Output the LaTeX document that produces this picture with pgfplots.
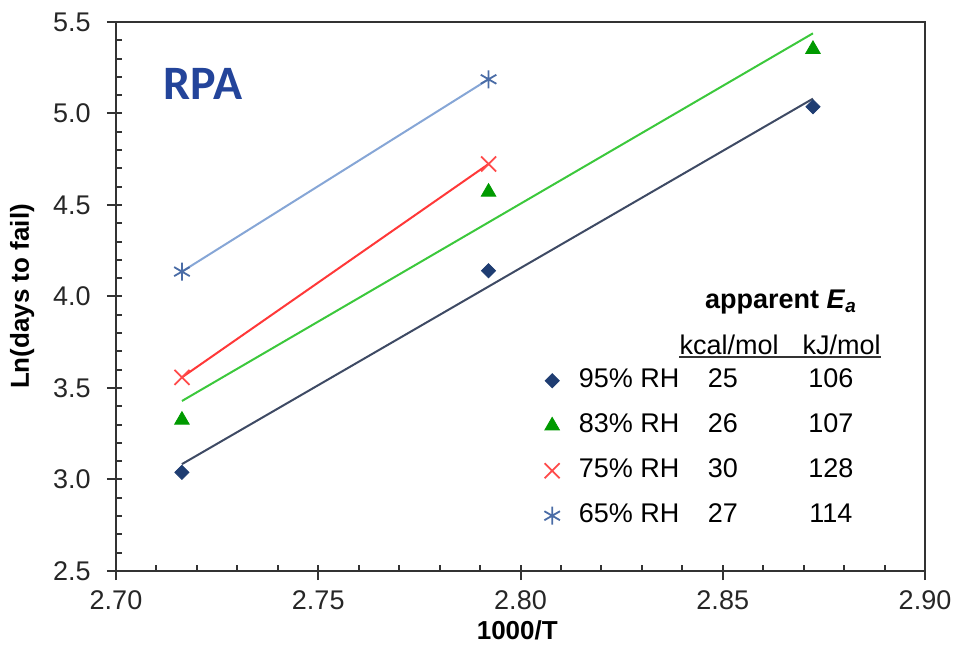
\documentclass[border=0pt]{standalone}
\usepackage{fontspec}
\setmainfont{Liberation Sans}
\newfontfamily\calibri{Carlito}
\usepackage{pgfplots}
\pgfplotsset{compat=1.18}
\usetikzlibrary{calc}

\definecolor{m95}{HTML}{1F3D72}
\definecolor{l95}{HTML}{3E4A64}
\definecolor{m83}{HTML}{009A00}
\definecolor{l83}{HTML}{3CC83C}
\definecolor{m75}{HTML}{FF4A4A}
\definecolor{l75}{HTML}{FF3838}
\definecolor{m65}{HTML}{4A6CA6}
\definecolor{l65}{HTML}{86A6D6}
\definecolor{rpa}{HTML}{23449A}
\definecolor{axgray}{HTML}{333333}

\newcommand{\fsz}{\fontsize{13.5}{16}\selectfont}

\begin{document}
\begin{tikzpicture}
\begin{axis}[
  scale only axis, width=404.5pt, height=274.5pt,
  xmin=2.70, xmax=2.90, ymin=2.5, ymax=5.5,
  xtick={2.70,2.75,2.80,2.85,2.90},
  ytick={2.5,3.0,3.5,4.0,4.5,5.0,5.5},
  minor x tick num=4, minor y tick num=4,
  xtick pos=bottom, ytick pos=left,
  tick align=inside,
  major tick length=7.5pt, minor tick length=3pt,
  every major x tick/.append style={yshift=-4.5pt},
  every major y tick/.append style={xshift=-4.5pt},
  tick style={axgray, line width=1pt},
  axis line style={axgray, line width=1.2pt},
  /pgf/number format/assume math mode=true,
  xticklabel={\pgfmathprintnumber[fixed,fixed zerofill,precision=2]{\tick}},
  yticklabel={\pgfmathprintnumber[fixed,fixed zerofill,precision=1]{\tick}},
  ticklabel style={font=\fsz, text=black!85},
  yticklabel style={inner sep=0pt, xshift=-12.5pt},
  xticklabel style={inner sep=0pt, yshift=-9.5pt},
  xlabel={\textbf{1000/T}},
  ylabel={\textbf{Ln(days to fail)}},
  label style={font=\fontsize{13}{15}\selectfont},
  xlabel style={at={(axis description cs:0.496,-0.1075)}, anchor=center},
  ylabel style={at={(axis description cs:-0.116,0.5)}, anchor=center},
  legend style={at={(axis description cs:0.529,0.371)}, anchor=north west,
    draw=none, fill=none, inner sep=0pt, font=\fsz,
    nodes={inner sep=0pt, text height=10pt, text depth=3pt, anchor=west},
    row sep=9.5pt, column sep=9.5pt},
  legend cell align=left,
]
% fitted lines
\addplot[l95, line width=1pt, forget plot] coordinates {(2.7163,3.084) (2.8723,5.081)};
\addplot[l83, line width=1pt, forget plot] coordinates {(2.7163,3.429) (2.8723,5.438)};
\addplot[l75, line width=1pt, forget plot] coordinates {(2.7163,3.558) (2.7921,4.724)};
\addplot[l65, line width=1pt, forget plot] coordinates {(2.7163,4.136) (2.7921,5.187)};
% measured points
\addplot[only marks, mark=square*, mark size=2.5pt, color=m95, mark options={fill=m95, rotate=45}]
  coordinates {(2.7163,3.039) (2.7921,4.141) (2.8723,5.037)};
\addplot[only marks, mark=triangle*, mark size=4.2pt, color=m83, mark options={fill=m83}]
  coordinates {(2.7163,3.325) (2.7921,4.571) (2.8723,5.351)};
\addplot[only marks, mark=x, mark size=5.3pt, color=m75, mark options={line width=0.9pt}]
  coordinates {(2.7163,3.558) (2.7921,4.724)};
\addplot[only marks, mark=asterisk, mark size=4.5pt, color=m65, mark options={line width=0.9pt}]
  coordinates {(2.7163,4.136) (2.7921,5.187)};
\legend{
  \makebox[58pt][l]{95\% RH}\makebox[28pt]{25}\makebox[80pt]{106},
  \makebox[58pt][l]{83\% RH}\makebox[28pt]{26}\makebox[80pt]{107},
  \makebox[58pt][l]{75\% RH}\makebox[28pt]{30}\makebox[80pt]{128},
  \makebox[58pt][l]{65\% RH}\makebox[28pt]{27}\makebox[80pt]{114}}
\node[text=rpa, font=\calibri\bfseries\fontsize{24}{28}\selectfont]
  at (axis description cs:0.1075,0.887) {RPA};
\node[font=\fsz\bfseries] at (axis description cs:0.822,0.490)
  {apparent \textit{E}\textsubscript{\textit{a}}};
\node[font=\fsz] at (axis description cs:0.758,0.412) {kcal/mol};
\node[font=\fsz] at (axis description cs:0.897,0.412) {kJ/mol};
\draw[axgray, line width=1pt] (axis description cs:0.696,0.390) -- (axis description cs:0.946,0.390);
\end{axis}
\pgfresetboundingbox
\path ($(current axis.south west)+(-58pt,-40pt)$) rectangle ($(current axis.north east)+(15pt,11pt)$);
\end{tikzpicture}
\end{document}
